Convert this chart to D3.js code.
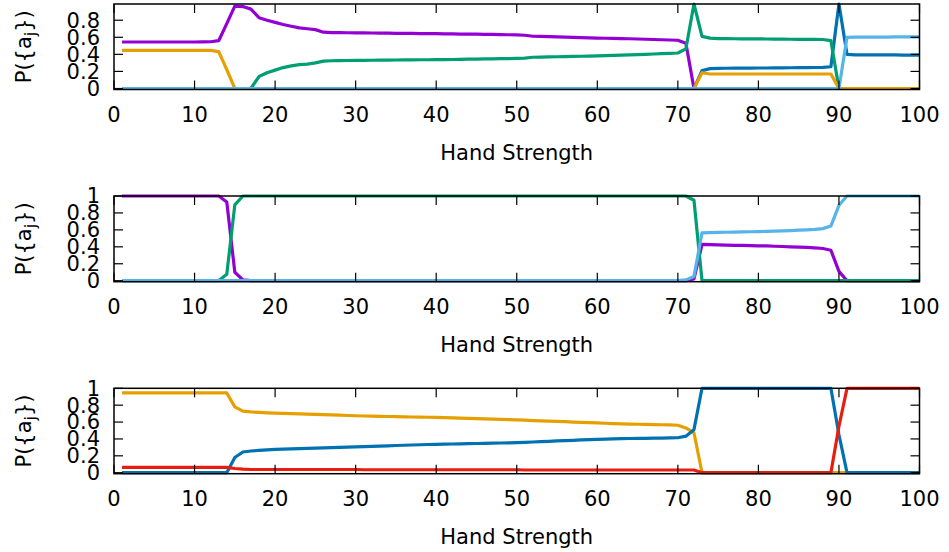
<!DOCTYPE html>
<html>
<head>
<meta charset="utf-8">
<script src="https://cdn.jsdelivr.net/npm/d3@7/dist/d3.min.js"></script>
<style>
  html, body { margin: 0; padding: 0; background: #fff; }
  svg { display: block; }
  text { font-family: "DejaVu Sans", sans-serif; fill: #000; }
</style>
</head>
<body>
<svg id="chart" width="949" height="552"></svg>
<script>
// Hand strength categories (x axis)
const handStrength = [
  1,2,3,4,5,6,7,8,9,10, 11,12,13,14,15,16,17,18,19,20,
  21,22,23,24,25,26,27,28,29,30, 31,32,33,34,35,36,37,38,39,40,
  41,42,43,44,45,46,47,48,49,50, 51,52,53,54,55,56,57,58,59,60,
  61,62,63,64,65,66,67,68,69,70, 71,72,73,74,75,76,77,78,79,80,
  81,82,83,84,85,86,87,88,89,90, 91,92,93,94,95,96,97,98,99,100
];
const xTicks = [0, 10, 20, 30, 40, 50, 60, 70, 80, 90, 100];
const yTicksTop = [0, 0.2, 0.4, 0.6, 0.8];
const yTicksFull = [0, 0.2, 0.4, 0.6, 0.8, 1];

// ---- Panel 1 ----
const p1Purple = [
  .545,.545,.545,.545,.545,.545,.545,.545,.545,.545,
  .546,.548,.56,.76,.965,.96,.93,.83,.80,.775,
  .75,.73,.71,.70,.69,.66,.655,.654,.653,.652,
  .651,.650,.649,.648,.647,.646,.645,.644,.643,.642,
  .641,.640,.638,.637,.636,.634,.633,.631,.630,.628,
  .624,.612,.610,.608,.606,.603,.600,.597,.594,.591,
  .589,.587,.585,.583,.580,.577,.574,.571,.568,.565,
  .53,0,0,0,0,0,0,0,0,0,
  0,0,0,0,0,0,0,0,0,0,
  0,0,0,0,0,0,0,0,0,0
];
const p1Green = [
  0,0,0,0,0,0,0,0,0,0,
  0,0,0,0,0,0,0,.14,.185,.215,
  .245,.265,.28,.285,.30,.32,.325,.327,.328,.329,
  .330,.331,.332,.333,.334,.335,.336,.337,.337,.338,
  .339,.340,.342,.343,.344,.346,.347,.349,.350,.352,
  .356,.366,.368,.370,.372,.374,.376,.378,.380,.382,
  .385,.388,.391,.394,.397,.400,.404,.408,.412,.416,
  .465,.99,.61,.59,.585,.584,.583,.582,.582,.581,
  .580,.579,.578,.577,.576,.575,.575,.574,.56,0,
  0,0,0,0,0,0,0,0,0,0
];
const p1Sky = [
  0,0,0,0,0,0,0,0,0,0,
  0,0,0,0,0,0,0,0,0,0,
  0,0,0,0,0,0,0,0,0,0,
  0,0,0,0,0,0,0,0,0,0,
  0,0,0,0,0,0,0,0,0,0,
  0,0,0,0,0,0,0,0,0,0,
  0,0,0,0,0,0,0,0,0,0,
  0,0,0,0,0,0,0,0,0,0,
  0,0,0,0,0,0,0,0,0,0,
  .60,.601,.602,.602,.603,.603,.604,.604,.605,.605
];
const p1Orange = [
  .447,.447,.447,.447,.447,.447,.447,.447,.447,.447,
  .447,.447,.432,.22,0,0,0,0,0,0,
  0,0,0,0,0,0,0,0,0,0,
  0,0,0,0,0,0,0,0,0,0,
  0,0,0,0,0,0,0,0,0,0,
  0,0,0,0,0,0,0,0,0,0,
  0,0,0,0,0,0,0,0,0,0,
  0,0,.185,.17,.17,.17,.17,.17,.17,.17,
  .17,.17,.17,.17,.17,.17,.17,.17,.17,0,
  0,0,0,0,0,0,0,0,0,0
];
const p1Blue = [
  0,0,0,0,0,0,0,0,0,0,
  0,0,0,0,0,0,0,0,0,0,
  0,0,0,0,0,0,0,0,0,0,
  0,0,0,0,0,0,0,0,0,0,
  0,0,0,0,0,0,0,0,0,0,
  0,0,0,0,0,0,0,0,0,0,
  0,0,0,0,0,0,0,0,0,0,
  0,0,.21,.233,.236,.237,.238,.238,.239,.240,
  .240,.241,.242,.243,.244,.245,.246,.248,.255,.99,
  .40,.395,.394,.394,.393,.393,.393,.392,.392,.392
];

// ---- Panel 2 ----
const p2Purple = [
  1,1,1,1,1,1,1,1,1,1,
  1,1,1,.93,.10,.01,0,0,0,0,
  0,0,0,0,0,0,0,0,0,0,
  0,0,0,0,0,0,0,0,0,0,
  0,0,0,0,0,0,0,0,0,0,
  0,0,0,0,0,0,0,0,0,0,
  0,0,0,0,0,0,0,0,0,0,
  0,.02,.43,.426,.423,.42,.418,.416,.414,.412,
  .41,.407,.404,.40,.397,.393,.388,.38,.36,.11,
  0,0,0,0,0,0,0,0,0,0
];
const p2Green = [
  0,0,0,0,0,0,0,0,0,0,
  0,0,0,.075,.895,1,1,1,1,1,
  1,1,1,1,1,1,1,1,1,1,
  1,1,1,1,1,1,1,1,1,1,
  1,1,1,1,1,1,1,1,1,1,
  1,1,1,1,1,1,1,1,1,1,
  1,1,1,1,1,1,1,1,1,1,
  1,.95,0,0,0,0,0,0,0,0,
  0,0,0,0,0,0,0,0,0,0,
  0,0,0,0,0,0,0,0,0,0
];
const p2Sky = [
  0,0,0,0,0,0,0,0,0,0,
  0,0,0,0,0,0,0,0,0,0,
  0,0,0,0,0,0,0,0,0,0,
  0,0,0,0,0,0,0,0,0,0,
  0,0,0,0,0,0,0,0,0,0,
  0,0,0,0,0,0,0,0,0,0,
  0,0,0,0,0,0,0,0,0,0,
  .01,.05,.565,.568,.570,.572,.574,.576,.578,.580,
  .582,.585,.588,.592,.596,.600,.605,.615,.645,.89,
  1,1,1,1,1,1,1,1,1,1
];

// ---- Panel 3 ----
const p3Orange = [
  .945,.945,.945,.945,.945,.945,.945,.945,.945,.945,
  .945,.945,.945,.945,.78,.73,.72,.714,.709,.705,
  .702,.699,.696,.693,.690,.687,.684,.681,.678,.675,
  .672,.670,.668,.666,.664,.662,.660,.658,.657,.656,
  .653,.650,.647,.644,.641,.638,.635,.632,.628,.625,
  .622,.618,.615,.611,.607,.604,.600,.597,.594,.590,
  .586,.582,.578,.576,.574,.572,.570,.568,.566,.562,
  .53,.473,0,0,0,0,0,0,0,0,
  0,0,0,0,0,0,0,0,0,0,
  0,0,0,0,0,0,0,0,0,0
];
const p3Blue = [
  0,0,0,0,0,0,0,0,0,0,
  0,0,0,0,.18,.245,.257,.265,.271,.277,
  .280,.283,.286,.289,.292,.295,.298,.301,.304,.307,
  .310,.313,.316,.319,.322,.325,.328,.331,.334,.336,
  .338,.340,.342,.344,.346,.348,.350,.352,.354,.356,
  .360,.364,.368,.372,.376,.380,.384,.388,.392,.395,
  .398,.401,.403,.405,.406,.407,.409,.410,.412,.414,
  .433,.51,1,1,1,1,1,1,1,1,
  1,1,1,1,1,1,1,1,1,.45,
  0,0,0,0,0,0,0,0,0,0
];
const p3Red = [
  .063,.063,.063,.063,.063,.063,.063,.063,.063,.063,
  .063,.063,.063,.063,.05,.042,.038,.038,.038,.038,
  .038,.038,.038,.038,.038,.038,.038,.038,.038,.038,
  .035,.035,.035,.035,.035,.035,.035,.035,.035,.035,
  .035,.035,.035,.035,.035,.035,.035,.035,.035,.035,
  .032,.032,.032,.032,.032,.032,.032,.032,.032,.032,
  .032,.032,.032,.032,.032,.032,.032,.032,.032,.032,
  .032,.032,0,0,0,0,0,0,0,0,
  0,0,0,0,0,0,0,0,0,.55,
  1,1,1,1,1,1,1,1,1,1
];

const colors = {
  purple: "#9400d3",
  green: "#009e73",
  sky: "#56b4e9",
  orange: "#e69f00",
  blue: "#0072b2",
  red: "#e51e10"
};

// series listed in drawing order (later ones sit on top)
const panels = [
  { top: 4, bottom: 89.5, yMax: 0.99, yTicks: yTicksTop,
    series: [[p1Blue, colors.blue], [p1Purple, colors.purple], [p1Green, colors.green],
             [p1Orange, colors.orange], [p1Sky, colors.sky]] },
  { top: 196, bottom: 281.7, yMax: 1, yTicks: yTicksFull,
    series: [[p2Purple, colors.purple], [p2Green, colors.green], [p2Sky, colors.sky]] },
  { top: 388.3, bottom: 473.7, yMax: 1, yTicks: yTicksFull,
    series: [[p3Orange, colors.orange], [p3Blue, colors.blue], [p3Red, colors.red]] }
];

const svg = d3.select("#chart");
const left = 114, right = 919.5;
const fontSize = 21;
const tickLen = 9;

const x = d3.scaleLinear().domain([0, 100]).range([left, right]);

panels.forEach(p => {
  // zero sits one pixel above the lower frame edge
  const y = d3.scaleLinear().domain([0, p.yMax]).range([p.bottom - 1, p.top]);
  const g = svg.append("g");

  // data lines
  const line = d3.line()
    .x((d, i) => x(handStrength[i]))
    .y(d => y(d));
  p.series.forEach(([vals, col]) => {
    g.append("path")
      .datum(vals)
      .attr("d", line)
      .attr("fill", "none")
      .attr("stroke", col)
      .attr("stroke-width", 3.2)
      .attr("stroke-linejoin", "round")
      .attr("stroke-linecap", "butt");
  });

  // inward ticks on all four sides (mirrored)
  const tickStyle = sel => sel.attr("stroke", "#000").attr("stroke-width", 1.2);
  xTicks.forEach(t => {
    g.append("line").attr("x1", x(t)).attr("x2", x(t))
      .attr("y1", p.bottom).attr("y2", p.bottom - tickLen).call(tickStyle);
    g.append("line").attr("x1", x(t)).attr("x2", x(t))
      .attr("y1", p.top).attr("y2", p.top + tickLen).call(tickStyle);
  });
  p.yTicks.forEach(t => {
    g.append("line").attr("x1", left).attr("x2", left + tickLen)
      .attr("y1", y(t)).attr("y2", y(t)).call(tickStyle);
    g.append("line").attr("x1", right).attr("x2", right - tickLen)
      .attr("y1", y(t)).attr("y2", y(t)).call(tickStyle);
  });

  // frame
  g.append("rect")
    .attr("x", left).attr("y", p.top)
    .attr("width", right - left).attr("height", p.bottom - p.top)
    .attr("fill", "none").attr("stroke", "#000").attr("stroke-width", 1.5);

  // x tick labels
  xTicks.forEach(t => {
    g.append("text")
      .attr("x", x(t)).attr("y", p.bottom + 25)
      .attr("dy", "0.35em")
      .attr("text-anchor", "middle")
      .style("font-size", fontSize + "px")
      .text(t);
  });
  // y tick labels
  p.yTicks.forEach(t => {
    g.append("text")
      .attr("x", left - 14).attr("y", y(t))
      .attr("dy", "0.35em")
      .attr("text-anchor", "end")
      .style("font-size", fontSize + "px")
      .text(d3.format("~g")(t));
  });

  // x axis title
  g.append("text")
    .attr("x", (left + right) / 2).attr("y", p.bottom + 63)
    .attr("dy", "0.35em")
    .attr("text-anchor", "middle")
    .style("font-size", fontSize + "px")
    .text("Hand Strength");

  // y axis title  P({a_j})
  const yl = g.append("text")
    .attr("transform", `translate(24,${(p.top + p.bottom) / 2}) rotate(-90)`)
    .attr("text-anchor", "middle")
    .attr("dy", "0.35em")
    .style("font-size", fontSize + "px");
  yl.append("tspan").text("P({a");
  yl.append("tspan").attr("dy", "0.3em").style("font-size", (fontSize * 0.75) + "px").text("j");
  yl.append("tspan").attr("dy", "-0.22em").text("})");
});
</script>
</body>
</html>
